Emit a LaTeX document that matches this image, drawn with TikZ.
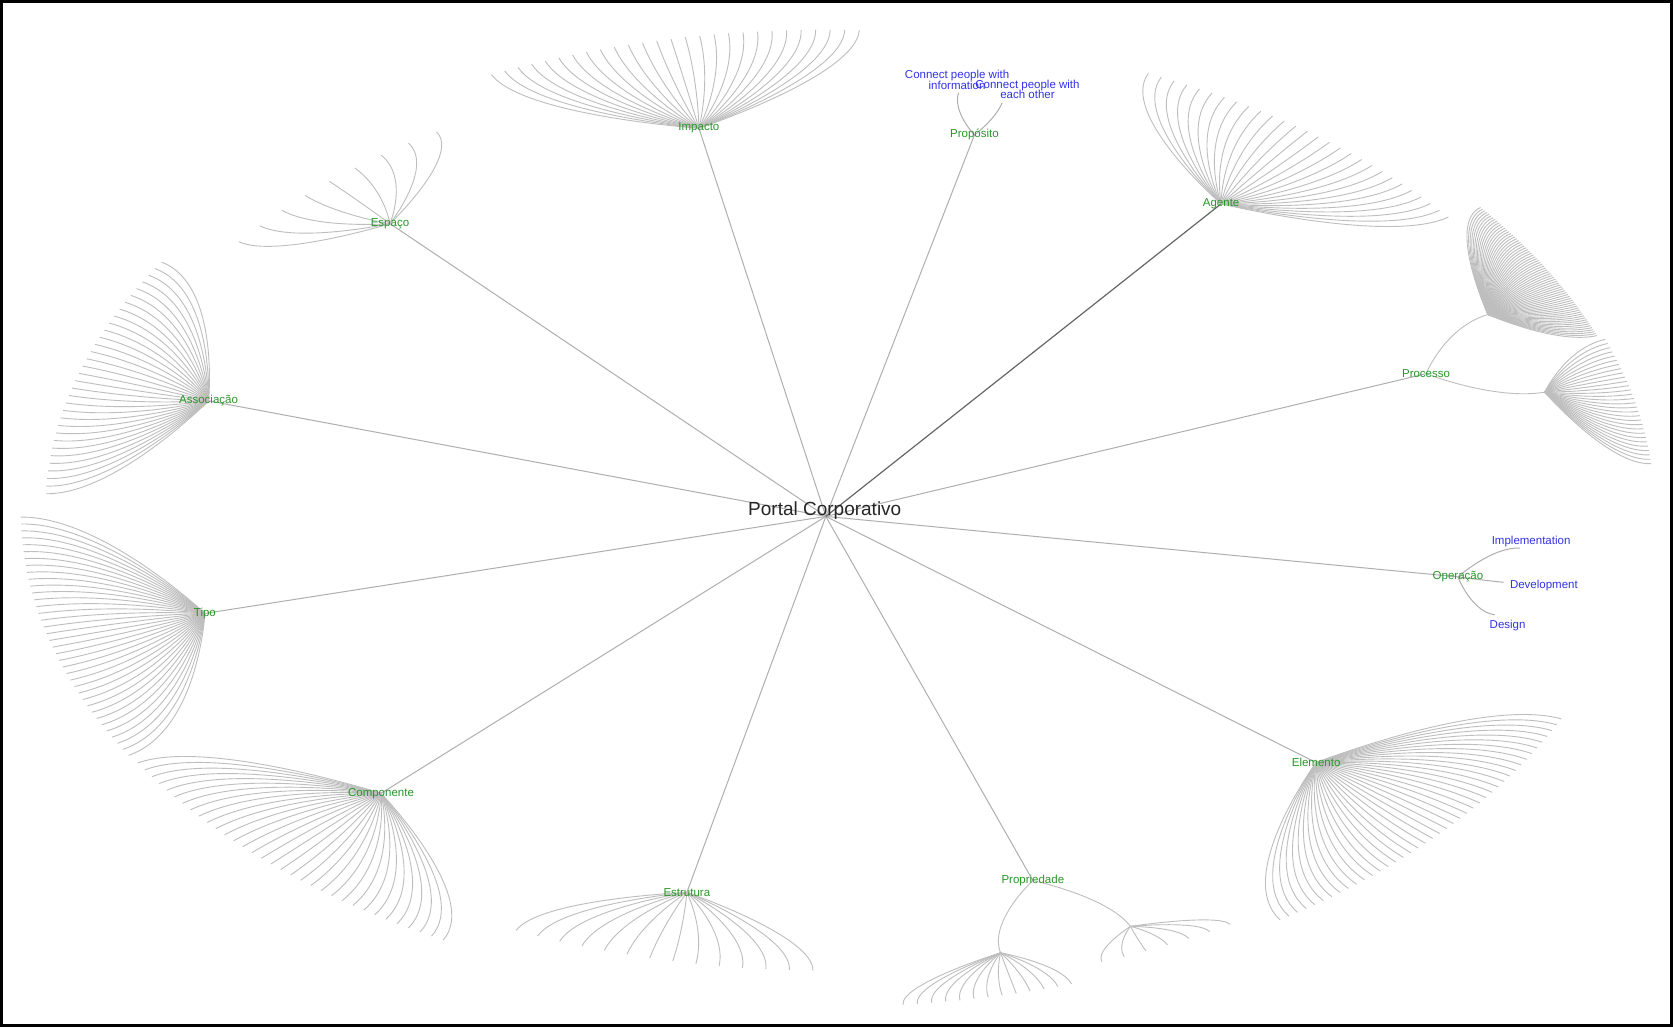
\documentclass[tikz,border=0pt]{standalone}
\usepackage{fontspec}
\setmainfont{Liberation Sans}
\usetikzlibrary{backgrounds}
\definecolor{lgreen}{RGB}{40,150,40}
\definecolor{lblue}{RGB}{50,50,230}
\definecolor{fangray}{RGB}{190,190,190}
\definecolor{spokegray}{RGB}{175,175,175}
% curved link from a named source to a computed leaf (arrives radially)
\newcommand\diag[6]{%
  \pgfmathsetmacro\dmid{((#4)+(#6))/2}%
  \coordinate (lf) at ({773+765*(#6)*cos(#5)},{479+465*(#6)*sin(#5)});
  \coordinate (cb) at ({773+765*\dmid*cos(#5)},{479+465*\dmid*sin(#5)});
  \draw[#1] (#2) .. controls (#2) and (cb) .. (lf);
}
\newcommand\fan[7]{%
  \pgfmathtruncatemacro\fanlast{#6-1}%
  \foreach \k in {0,...,\fanlast}{%
    \pgfmathsetmacro\fanang{#4+(#5-#4)*\k/\fanlast}%
    \diag{fanline}{#1}{#2}{#3}{\fanang}{#7}
  }%
}
\newcommand\hubnode[4]{%
  \node[hub] (#1) at ({773+765*(#3)*cos(#2)},{479+465*(#3)*sin(#2)}) {#4};
}
\newcommand\subpt[3]{%
  \coordinate (#1) at ({773+765*(#3)*cos(#2)},{479+465*(#3)*sin(#2)});
}
\begin{document}
\begin{tikzpicture}[x=1.0669pt,y=-1.0669pt,
  hub/.style={text=lgreen,font=\fontsize{11.5}{12}\selectfont,inner sep=1pt},
  leaflabel/.style={text=lblue,font=\fontsize{11.5}{12}\selectfont,inner sep=1pt,align=center},
  rootlabel/.style={text=black!85,font=\fontsize{19}{21}\selectfont,inner sep=1pt},
  fanline/.style={draw=fangray,line width=0.9pt},
  spoke/.style={draw=spokegray,line width=1pt},
  darkspoke/.style={draw=black!60,line width=1.2pt}]
\useasboundingbox (0,0) rectangle (1568,963);

% root and hubs
\node[rootlabel] (root) at (773,479) {Portal Corporativo};
\coordinate (rc) at (774,484);
\hubnode{imp}{258.7}{0.787}{Impacto}
\hubnode{prop}{283.6}{0.78}{Propósito}
\hubnode{age}{308.1}{0.787}{Agente}
\hubnode{proc}{339.4}{0.787}{Processo}
\hubnode{oper}{9.7}{0.787}{Operação}
\hubnode{elem}{40.1}{0.787}{Elemento}
\hubnode{pri}{71.1}{0.787}{Propriedade}
\hubnode{estr}{102.4}{0.787}{Estrutura}
\hubnode{comp}{133.7}{0.787}{Componente}
\hubnode{tipo}{164.8}{0.787}{Tipo}
\hubnode{assoc}{196.4}{0.787}{Associação}
\hubnode{esp}{227.4}{0.787}{Espaço}

% intermediate points
\subpt{procA}{334}{0.904}
\subpt{procB}{344.8}{0.914}
\subpt{priA}{76.4}{0.916}
\subpt{priB}{65.9}{0.917}

% labelled leaves
\node[leaflabel] (cinfo) at (897,75) {Connect people with\\[-1.5pt]information};
\node[leaflabel] (cother) at (963,84) {Connect people with\\[-1.5pt]each other};
\node[leaflabel] (impl) at (1435,508) {Implementation};
\node[leaflabel] (dev) at (1447,549) {Development};
\node[leaflabel] (des) at (1413,586) {Design};

\begin{scope}[on background layer]
  \fill[white] (0,0) rectangle (1568,963);
  \foreach \h in {imp,prop,proc,oper,elem,pri,estr,comp,tipo,assoc,esp}
    \draw[spoke] (rc) -- (\h.center);
  \draw[darkspoke] (rc) -- (age.center);

  % Propósito leaves
  \diag{spoke}{prop.center}{283.6}{0.78}{281}{0.859}
  \diag{spoke}{prop.center}{283.6}{0.78}{284.8}{0.851}
  % Operação leaves
  \diag{spoke}{oper.center}{9.7}{0.787}{5.0}{0.855}
  \diag{spoke}{oper.center}{9.7}{0.787}{9.8}{0.844}
  \diag{spoke}{oper.center}{9.7}{0.787}{14.3}{0.847}

  % Processo and Propriedade sub-branches
  \diag{fanline}{proc.center}{339.4}{0.787}{334}{0.904}
  \diag{fanline}{proc.center}{339.4}{0.787}{344.8}{0.914}
  \diag{fanline}{pri.center}{71.1}{0.787}{76.4}{0.916}
  \diag{fanline}{pri.center}{71.1}{0.787}{65.9}{0.917}

  % fans
  \fan{imp.center}{258.7}{0.787}{245.1}{272.5}{27}{0.97}
  \fan{esp.center}{227.4}{0.787}{217.1}{238.1}{9}{0.90}
  \fan{age.center}{308.1}{0.787}{294.2}{322.2}{28}{0.967}
  \fan{procA}{334}{0.904}{322.7}{339.5}{70}{1.01}
  \fan{procB}{344.8}{0.914}{340.1}{354.6}{30}{1.017}
  \fan{elem.center}{40.1}{0.787}{24.9}{55.9}{42}{0.995}
  \fan{priA}{76.4}{0.916}{72.4}{84.5}{13}{1.0}
  \fan{priB}{65.9}{0.917}{59.2}{69.5}{7}{0.97}
  \fan{estr.center}{102.4}{0.787}{90.9}{114.1}{14}{0.926}
  \fan{comp.center}{133.7}{0.787}{118.4}{148.9}{33}{0.983}
  \fan{tipo.center}{164.8}{0.787}{150.0}{179.3}{37}{0.985}
  \fan{assoc.center}{196.4}{0.787}{182.1}{211.7}{33}{0.955}
\end{scope}
\draw[line width=3pt] (1.5,1.5) rectangle (1566.5,961.5);
\end{tikzpicture}
\end{document}
